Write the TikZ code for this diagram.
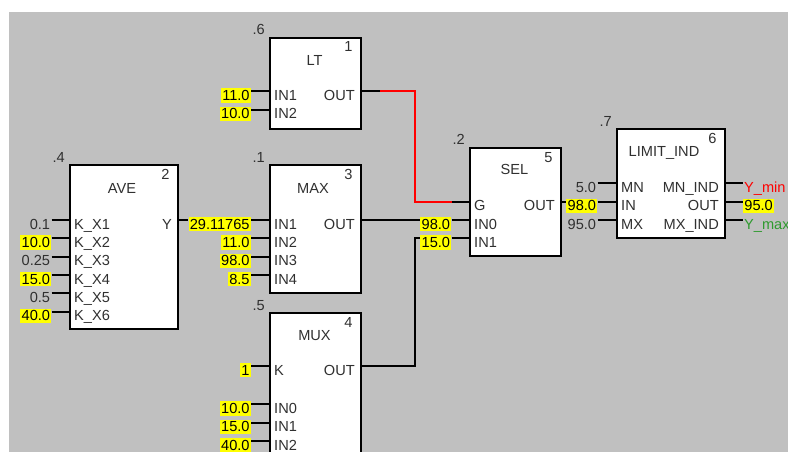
\documentclass[tikz,border=0pt]{standalone}
\usepackage{fontspec}
\setmainfont{Liberation Sans}
\definecolor{bg}{HTML}{C0C0C0}
\definecolor{txt}{HTML}{303030}
\definecolor{hl}{HTML}{FFFF00}
\definecolor{wred}{HTML}{FF0000}
\definecolor{wgreen}{HTML}{2E9A2E}
\tikzset{
  fb/.style={draw=black,fill=white,line width=2pt,anchor=north west,inner sep=0pt},
  title/.style={anchor=base,text=txt},
  idx/.style={anchor=base east,text=txt},
  tag/.style={anchor=base east,text=txt,inner sep=0pt},
  pin/.style={anchor=base west,text=txt,xshift=5pt,yshift=-9pt,inner sep=0pt},
  pout/.style={anchor=base east,text=txt,xshift=-5pt,yshift=-9pt,inner sep=0pt},
  cval/.style={anchor=base east,text=txt,yshift=-9pt,inner sep=1.2pt,text height=11pt,text depth=1pt},
  val/.style={cval,fill=hl,text=black},
  wire/.style={line width=2pt},
}
\begin{document}
\begin{tikzpicture}[x=1pt,y=-1pt,font=\fontsize{14.6}{17}\selectfont]
  \useasboundingbox (0,0) rectangle (788,452);
  \fill[white] (0,0) rectangle (788,452);
  \fill[bg] (9,12) rectangle (788,452);

  % block 1: LT
  \node[fb,minimum width=91pt,minimum height=91pt] (lt) at (269,37) {};
  \node[tag] at (265,35) {.6};
  \node[idx] at (356,52) {1};
  \node[title] at (314.5,66) {LT};
  \coordinate (lt-i1) at (269,91.5);
  \coordinate (lt-i2) at (269,110);
  \coordinate (lt-o) at (360,91.5);
  \node[pin] at (lt-i1) {IN1};
  \node[pin] at (lt-i2) {IN2};
  \node[pout] at (lt-o) {OUT};
  \node[val] (lt-v1) at (251,91.5) {11.0};
  \node[val] (lt-v2) at (251,110) {10.0};
  \draw[wire] (lt-v1.east |- lt-i1) -- (lt-i1);
  \draw[wire] (lt-v2.east |- lt-i2) -- (lt-i2);

  % block 2: AVE
  \node[fb,minimum width=108pt,minimum height=164pt] (ave) at (69,164) {};
  \node[tag] at (65,162) {.4};
  \node[idx] at (173,179) {2};
  \node[title] at (122,193) {AVE};
  \foreach \n/\y/\v/\s in {1/220/0.1/cval,2/238.3/10.0/val,3/256.7/0.25/cval,
                           4/275/15.0/val,5/293.3/0.5/cval,6/311.7/40.0/val}{
    \coordinate (ave-i\n) at (69,\y);
    \node[pin] at (ave-i\n) {K\_X\n};
    \node[\s] (ave-v\n) at (51.5,\y) {\v};
    \draw[wire] (ave-v\n.east |- ave-i\n) -- (ave-i\n);
  }
  \coordinate (ave-o) at (177,220);
  \node[pout] at (ave-o) {Y};

  % block 3: MAX
  \node[fb,minimum width=91pt,minimum height=128pt] (max) at (269,164) {};
  \node[tag] at (265,162) {.1};
  \node[idx] at (356,179) {3};
  \node[title] at (313,193) {MAX};
  \foreach \n/\y/\v in {1/220/29.11765,2/238.3/11.0,3/256.7/98.0,4/275/8.5}{
    \coordinate (max-i\n) at (269,\y);
    \node[pin] at (max-i\n) {IN\n};
    \node[val] (max-v\n) at (251,\y) {\v};
    \draw[wire] (max-v\n.east |- max-i\n) -- (max-i\n);
  }
  \coordinate (max-o) at (360,220);
  \node[pout] at (max-o) {OUT};

  % block 4: MUX
  \node[fb,minimum width=91pt,minimum height=170pt] (mux) at (269,312) {};
  \node[tag] at (265,310) {.5};
  \node[idx] at (356,327) {4};
  \node[title] at (314.5,340) {MUX};
  \coordinate (mux-k) at (269,366);
  \node[pin] at (mux-k) {K};
  \node[val] (mux-vk) at (251,366) {1};
  \draw[wire] (mux-vk.east |- mux-k) -- (mux-k);
  \foreach \n/\y/\v in {0/404.3/10.0,1/422.7/15.0,2/441/40.0}{
    \coordinate (mux-i\n) at (269,\y);
    \node[pin] at (mux-i\n) {IN\n};
    \node[val] (mux-v\n) at (251,\y) {\v};
    \draw[wire] (mux-v\n.east |- mux-i\n) -- (mux-i\n);
  }
  \coordinate (mux-o) at (360,366);
  \node[pout] at (mux-o) {OUT};

  % block 5: SEL
  \node[fb,minimum width=91pt,minimum height=108pt] (sel) at (469,147) {};
  \node[tag] at (465,145) {.2};
  \node[idx] at (556,162) {5};
  \node[title] at (514.5,175) {SEL};
  \coordinate (sel-g) at (469,201.7);
  \coordinate (sel-gs) at (451.5,201.7);
  \coordinate (sel-i0) at (469,220);
  \coordinate (sel-i1) at (469,238.3);
  \coordinate (sel-o) at (560,201.7);
  \node[pin] at (sel-g) {G};
  \node[pin] at (sel-i0) {IN0};
  \node[pin] at (sel-i1) {IN1};
  \node[pout] at (sel-o) {OUT};
  \node[val] (sel-v0) at (451.5,220) {98.0};
  \node[val] (sel-v1) at (451.5,238.3) {15.0};
  \draw[wire] (sel-gs) -- (sel-g);
  \draw[wire] (sel-v0.east |- sel-i0) -- (sel-i0);
  \draw[wire] (sel-v1.east |- sel-i1) -- (sel-i1);

  % block 6: LIMIT_IND
  \node[fb,minimum width=108pt,minimum height=109pt] (lim) at (616,128) {};
  \node[tag] at (612,126) {.7};
  \node[idx] at (720,143) {6};
  \node[title] at (664,157) {LIMIT\_IND};
  \foreach \n/\y/\p/\q/\v/\s in {1/183.3/MN/MN\_IND/5.0/cval,2/201.7/IN/OUT/98.0/val,
                                 3/220/MX/MX\_IND/95.0/cval}{
    \coordinate (lim-i\n) at (616,\y);
    \coordinate (lim-o\n) at (724,\y);
    \node[pin] at (lim-i\n) {\p};
    \node[pout] at (lim-o\n) {\q};
    \node[\s] (lim-v\n) at (597.5,\y) {\v};
    \draw[wire] (lim-v\n.east |- lim-i\n) -- (lim-i\n);
    \draw[wire] (lim-o\n) -- ++(19,0) coordinate (lim-e\n);
  }
  \node[pin,xshift=-4pt,text=wred] at (lim-e1) {Y\_min};
  \node[val,anchor=base west] (lim-out) at (lim-e2) {95.0};
  \node[pin,xshift=-4pt,text=wgreen] at (lim-e3) {Y\_max};

  % connections
  \draw[wire] (lt-o) -- ++(20,0) coordinate (lt-os);
  \draw[wire,wred] (lt-os) -- ++(35,0) |- (sel-gs);
  \draw[wire] (ave-o) -- (max-v1.west |- ave-o);
  \draw[wire] (max-o) -- (sel-v0.west |- max-o);
  \draw[wire] (mux-o) -- ++(55,0) |- (sel-v1.west |- sel-i1);
  \draw[wire] (sel-o) -- (lim-v2.west |- sel-o);
\end{tikzpicture}
\end{document}
